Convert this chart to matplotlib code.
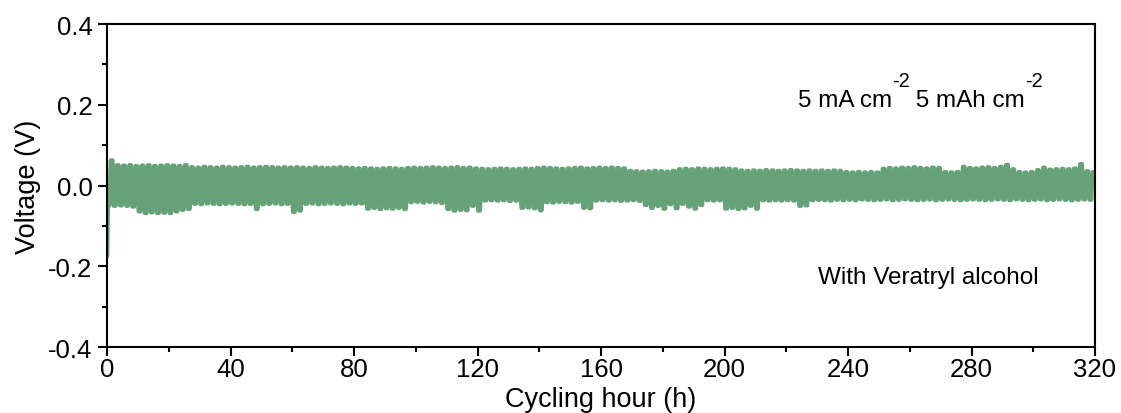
"""
Symmetric cell cycling curve: 5 mA cm-2 / 5 mAh cm-2, with veratryl alcohol.
"""
import matplotlib
matplotlib.use("Agg")
import matplotlib.pyplot as plt
import numpy as np
from matplotlib.transforms import offset_copy

plt.rcParams["font.family"] = ["Liberation Sans", "DejaVu Sans"]

CURVE_COLOR = "#66a277"

# one cycle = 2 h (1 h plating + 1 h stripping)
CYCLE_HOURS = 2.0
PLATEAU_HALF = 0.25          # half width (h) of each flat voltage step
FIRST_POINT = (0.0, -0.175)  # nucleation dip at the very start

# peak voltage (V) of the positive half of each cycle
peak_up = [
    0.062, 0.050, 0.049, 0.050, 0.048, 0.049, 0.050, 0.048, 0.049, 0.050,
    0.049, 0.048, 0.050, 0.045, 0.044, 0.046, 0.045, 0.044, 0.046, 0.045,
    0.044, 0.045, 0.046, 0.044, 0.045, 0.046, 0.045, 0.044, 0.045, 0.044,
    0.045, 0.044, 0.043, 0.045, 0.044, 0.043, 0.044, 0.045, 0.044, 0.043,
    0.042, 0.043, 0.042, 0.041, 0.042, 0.043, 0.042, 0.041, 0.043, 0.044,
    0.043, 0.044, 0.045, 0.044, 0.043, 0.044, 0.045, 0.043, 0.044, 0.042,
    0.041, 0.040, 0.041, 0.042, 0.041, 0.040, 0.041, 0.042, 0.041, 0.043,
    0.044, 0.043, 0.042, 0.041, 0.042, 0.043, 0.044, 0.042, 0.043, 0.044,
    0.043, 0.044, 0.043, 0.042, 0.036, 0.035, 0.034, 0.035, 0.036, 0.035,
    0.034, 0.036, 0.040, 0.041, 0.040, 0.042, 0.041, 0.040, 0.041, 0.042,
    0.041, 0.040, 0.037, 0.036, 0.037, 0.036, 0.038, 0.037, 0.036, 0.037,
    0.038, 0.037, 0.036, 0.037, 0.036, 0.037, 0.036, 0.037, 0.036, 0.033,
    0.032, 0.033, 0.032, 0.033, 0.032, 0.041, 0.043, 0.042, 0.044, 0.043,
    0.045, 0.043, 0.042, 0.044, 0.043, 0.033, 0.032, 0.033, 0.046, 0.043,
    0.042, 0.044, 0.045, 0.043, 0.046, 0.051, 0.040, 0.033, 0.032, 0.033,
    0.038, 0.044, 0.039, 0.040, 0.041, 0.040, 0.042, 0.053, 0.035, 0.033,
]

# peak voltage (V) of the negative half of each cycle
peak_down = [
    -0.049, -0.050, -0.049, -0.050, -0.052, -0.064, -0.068, -0.066, -0.068, -0.067,
    -0.068, -0.064, -0.060, -0.058, -0.045, -0.046, -0.044, -0.045, -0.046, -0.045,
    -0.044, -0.045, -0.046, -0.045, -0.058, -0.046, -0.045, -0.044, -0.046, -0.045,
    -0.065, -0.062, -0.045, -0.044, -0.046, -0.045, -0.044, -0.045, -0.046, -0.044,
    -0.045, -0.044, -0.057, -0.055, -0.058, -0.056, -0.057, -0.055, -0.058, -0.041,
    -0.040, -0.042, -0.040, -0.041, -0.043, -0.058, -0.062, -0.060, -0.061, -0.050,
    -0.062, -0.037, -0.036, -0.037, -0.036, -0.038, -0.037, -0.055, -0.054, -0.056,
    -0.061, -0.041, -0.042, -0.040, -0.041, -0.042, -0.040, -0.055, -0.056, -0.037,
    -0.036, -0.037, -0.036, -0.038, -0.037, -0.036, -0.038, -0.048, -0.055, -0.050,
    -0.057, -0.046, -0.056, -0.045, -0.052, -0.057, -0.048, -0.036, -0.037, -0.036,
    -0.057, -0.055, -0.058, -0.056, -0.050, -0.057, -0.036, -0.037, -0.036, -0.037,
    -0.036, -0.037, -0.050, -0.049, -0.036, -0.035, -0.036, -0.037, -0.035, -0.036,
    -0.035, -0.036, -0.034, -0.035, -0.036, -0.035, -0.034, -0.036, -0.035, -0.034,
    -0.035, -0.036, -0.035, -0.034, -0.036, -0.035, -0.034, -0.035, -0.036, -0.035,
    -0.034, -0.035, -0.036, -0.035, -0.034, -0.035, -0.036, -0.034, -0.035, -0.036,
    -0.035, -0.034, -0.036, -0.035, -0.034, -0.035, -0.036, -0.035, -0.034, -0.035,
]

# assemble the step curve: negative step centred at 2i+0.5 h, positive at 2i+1.5 h
n = len(peak_up)
cycle_start = np.arange(n) * CYCLE_HOURS
centres = np.empty(2 * n)
centres[0::2] = cycle_start + 0.5
centres[1::2] = cycle_start + 1.5
levels = np.empty(2 * n)
levels[0::2] = peak_down
levels[1::2] = peak_up

hours = np.column_stack([centres - PLATEAU_HALF, centres + PLATEAU_HALF]).ravel()
volts = np.repeat(levels, 2)
hours = np.concatenate([[FIRST_POINT[0]], hours])
volts = np.concatenate([[FIRST_POINT[1]], volts])

fig = plt.figure(figsize=(11.21, 4.14), dpi=100)
ax = fig.add_axes([0.0955, 0.1594, 0.8813, 0.7802])

ax.plot(hours, volts, color=CURVE_COLOR, lw=3.2,
        solid_joinstyle="round", solid_capstyle="round")

ax.set_xlim(0, 320)
ax.set_ylim(-0.4, 0.4)
ax.set_xticks(np.arange(0, 321, 40))
ax.set_xticks(np.arange(20, 320, 40), minor=True)
ax.set_yticks([-0.4, -0.2, 0.0, 0.2, 0.4])
ax.set_yticks([-0.3, -0.1, 0.1, 0.3], minor=True)
ax.set_yticklabels(["-0.4", "-0.2", "0.0", "0.2", "0.4"])

for s in ax.spines.values():
    s.set_linewidth(1.5)
ax.tick_params(which="major", direction="out", length=6.5, width=1.5,
               labelsize=18.5, top=False, right=False)
ax.tick_params(which="minor", direction="out", length=3.4, width=1.5,
               top=False, right=False)
ax.tick_params(axis="x", which="major", pad=0.5)
ax.tick_params(axis="y", which="major", pad=4)

ax.set_xlabel("Cycling hour (h)", fontsize=19.5, labelpad=3.5)
ax.set_ylabel("Voltage (V)", fontsize=19.5, labelpad=5)

# condition label with raised "-2" superscripts, written piece by piece
pieces = [("5 mA cm", 0, 17.5), ("-2", 14, 14.5), (" 5 mAh cm", 0, 17.5), ("-2", 14, 14.5)]
renderer = fig.canvas.get_renderer()
x_px = 0.0
for txt, rise, size in pieces:
    tr = offset_copy(ax.transAxes, fig=fig, x=x_px, y=rise, units="points")
    t = ax.text(0.699, 0.747, txt, transform=tr, fontsize=size,
                ha="left", va="baseline")
    x_px += t.get_window_extent(renderer).width * 72 / fig.dpi

ax.text(0.72, 0.217, "With Veratryl alcohol", transform=ax.transAxes,
        fontsize=17.5, ha="left", va="center")

fig.savefig("out.png", dpi=100)
